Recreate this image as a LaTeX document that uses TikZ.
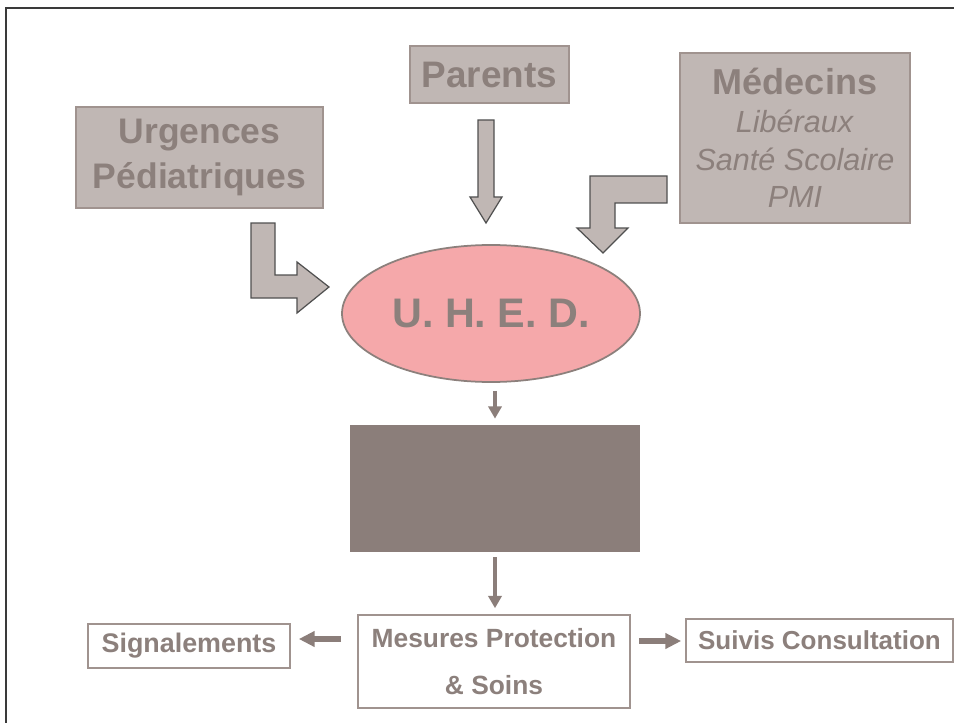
\documentclass[tikz,border=0pt]{standalone}
\usepackage{fontspec}
\setmainfont{Liberation Sans}
\usetikzlibrary{arrows.meta,shapes.geometric}
\definecolor{txtgrey}{HTML}{8C807C}
\definecolor{boxfill}{HTML}{C0B7B4}
\definecolor{boxline}{HTML}{A0938F}
\definecolor{pinkfill}{HTML}{F5A8AA}
\definecolor{darkbox}{HTML}{8B7E7A}
\definecolor{framecol}{HTML}{3A3A3A}
\definecolor{blockline}{HTML}{505050}
\tikzset{
  greybox/.style={draw=boxline, fill=boxfill, line width=0.9pt, inner sep=0pt, text=txtgrey, align=center},
  whitebox/.style={draw=boxline, fill=white, line width=0.9pt, inner sep=0pt, text=txtgrey, align=center},
  blockarrow/.style={draw=blockline, fill=boxfill, line width=0.7pt, line join=miter},
  thinarrow/.style={draw=darkbox, line width=2.8pt, -{Triangle[length=7pt,width=7.5pt]}},
  sidearrow/.style={draw=darkbox, line width=3.4pt, -{Triangle[length=9pt,width=8.5pt]}},
  framestyle/.style={draw=framecol, line width=1.5pt}
}
\begin{document}
\begin{tikzpicture}[x=0.02cm,y=-0.02cm]
\useasboundingbox (0,0) rectangle (954,723);
% frame
\coordinate (ftl) at (6,8);
\coordinate (ftr) at (954,8);
\coordinate (fbl) at (6,723);
\draw[framestyle] (ftr) -- (ftl) -- (fbl);

% boxes
\node[greybox, minimum width=159*0.02cm, minimum height=57*0.02cm,
  font=\bfseries\fontsize{21}{24}\selectfont] (parents) at (489.5,74.5) {Parents};
\node[greybox, minimum width=230*0.02cm, minimum height=170*0.02cm,
  font=\fontsize{17.4}{21.5}\selectfont] (medecins) at (795,138)
  {{\bfseries\fontsize{20.5}{21.5}\selectfont Médecins}\\ \textit{Libéraux}\\ \textit{Santé Scolaire}\\ \textit{PMI}};
\node[greybox, minimum width=247*0.02cm, minimum height=101*0.02cm,
  font=\bfseries\fontsize{20.2}{26}\selectfont] (urgences) at (199.5,157.5) {Urgences\\Pédiatriques};
\node[ellipse, draw=txtgrey, fill=pinkfill, line width=1pt, inner sep=0pt,
  minimum width=298*0.02cm, minimum height=137*0.02cm, text=txtgrey,
  font=\bfseries\fontsize{23.5}{26}\selectfont] (uhed) at (491,313.5) {U. H. E. D.};
\node[fill=darkbox, inner sep=0pt, minimum width=290*0.02cm, minimum height=127*0.02cm] (dark) at (495,488.5) {};
\node[whitebox, minimum width=272*0.02cm, minimum height=93*0.02cm,
  font=\bfseries\fontsize{15}{27}\selectfont] (mesures) at (494,661.5) {Mesures Protection\\\& Soins};
\node[whitebox, minimum width=202*0.02cm, minimum height=44*0.02cm,
  font=\bfseries\fontsize{15.3}{18}\selectfont] (signal) at (189,646) {Signalements};
\node[whitebox, minimum width=267*0.02cm, minimum height=43*0.02cm,
  font=\bfseries\fontsize{14.8}{18}\selectfont] (suivis) at (819.5,640.5) {Suivis Consultation};

% block arrows
\path[blockarrow] (251,223) -- (275,223) -- (275,275) -- (297,275) -- (297,262) -- (329,287)
  -- (297,313) -- (297,298) -- (251,298) -- cycle;
\path[blockarrow] (478,120) -- (494,120) -- (494,197) -- (502,197) -- (486,223) -- (470,197)
  -- (478,197) -- cycle;
\path[blockarrow] (590,176) -- (667,176) -- (667,203) -- (615,203) -- (615,228) -- (628,228)
  -- (603,253) -- (577,228) -- (590,228) -- cycle;

% line arrows
\draw[thinarrow, shorten <=8*0.02cm, shorten >=6*0.02cm] (uhed.south -| dark.north) -- (dark.north);
\draw[thinarrow, shorten <=5*0.02cm, shorten >=6*0.02cm] (dark.south) -- (dark.south |- mesures.north);
\coordinate (sa) at ([yshift=7*0.02cm]mesures.west |- signal.east);
\draw[sidearrow, shorten <=16*0.02cm, shorten >=8*0.02cm] (sa) -- (sa -| signal.east);
\coordinate (sb) at ([yshift=-0.5*0.02cm]mesures.east |- suivis.west);
\draw[sidearrow, shorten <=8*0.02cm, shorten >=4*0.02cm] (sb) -- (sb -| suivis.west);
\end{tikzpicture}
\end{document}
